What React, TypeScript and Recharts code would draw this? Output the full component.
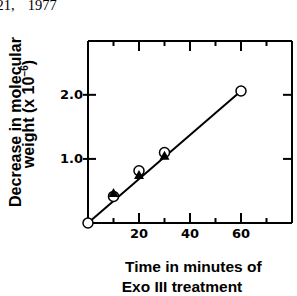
import { ComposedChart, Line, Scatter, XAxis, YAxis } from 'recharts';

// time axis (minutes) and decrease axis (x 10^-6)
const xTicks = [10, 20, 30, 40, 50, 60, 70];
const xLabels = [20, 40, 60];
const yTicks = [1.0, 2.0];

// open circles
const openTime = [0, 10, 20, 30, 60];
const openDecrease = [0, 0.415, 0.815, 1.1, 2.06];
// filled triangles
const filledTime = [10, 20, 30];
const filledDecrease = [0.47, 0.75, 1.05];
// fitted straight line
const fitTime = [0, 60];
const fitDecrease = [0, 2.06];

const openData = openTime.map((t, i) => ({ t, d: openDecrease[i] }));
const filledData = filledTime.map((t, i) => ({ t, d: filledDecrease[i] }));
const fitData = fitTime.map((t, i) => ({ t, d: fitDecrease[i] }));

const tickFont = { fontFamily: '"DejaVu Sans", sans-serif', fontWeight: 700, fontSize: 13 };
const titleFont = { fontFamily: '"Liberation Sans", Arial, sans-serif', fontWeight: 700 };
const ink = { stroke: '#000', strokeWidth: 2, fill: 'none' };

const BottomTick = ({ x, y, payload }: any) => {
  const major = xLabels.includes(payload.value);
  return (
    <g>
      <path d={`M${x},${y}V${y - (major ? 10 : 5)}`} {...ink} />
      {major && (
        <text x={x} y={y + 15} textAnchor="middle" fill="#000" style={tickFont}>
          {payload.value}
        </text>
      )}
    </g>
  );
};

const TopTick = ({ x, y, payload }: any) => {
  const major = xLabels.includes(payload.value);
  return <path d={`M${x},${y}V${y + (major ? 10 : 5)}`} {...ink} />;
};

const LeftTick = ({ x, y, payload }: any) => (
  <g>
    <path d={`M${x - 5},${y}H${x + 8}`} {...ink} />
    <text x={x - 5} y={y + 4.5} textAnchor="end" fill="#000" style={tickFont}>
      {payload.value.toFixed(1)}
    </text>
  </g>
);

const RightTick = ({ x, y }: any) => <path d={`M${x - 9},${y}H${x}`} {...ink} />;

const OpenCircle = ({ cx, cy }: any) => (
  <circle cx={cx} cy={cy} r={5} fill="#fff" stroke="#000" strokeWidth={1.5} />
);

const FilledTriangle = ({ cx, cy }: any) => (
  <path d={`M${cx},${cy - 5}L${cx + 5},${cy + 4}L${cx - 5},${cy + 4}Z`} fill="#000" />
);

const frame = { stroke: '#000', strokeWidth: 2 };

export default function App() {
  return (
    <div style={{ position: 'absolute', left: 0, top: 0, width: 297, height: 296, background: '#fff' }}>
      <ComposedChart width={297} height={296} margin={{ top: 40, right: 4, bottom: 72, left: 87 }}>
        <XAxis
          xAxisId="b"
          dataKey="t"
          type="number"
          domain={[0, 80]}
          ticks={xTicks}
          height={1}
          tickSize={0}
          tickMargin={0}
          tickLine={false}
          axisLine={frame}
          tick={<BottomTick />}
          interval={0}
        />
        <XAxis
          xAxisId="t"
          orientation="top"
          dataKey="t"
          type="number"
          domain={[0, 80]}
          ticks={xTicks}
          height={1}
          tickSize={0}
          tickMargin={0}
          tickLine={false}
          axisLine={frame}
          tick={<TopTick />}
          interval={0}
        />
        <YAxis
          yAxisId="l"
          dataKey="d"
          type="number"
          domain={[0, 2.84]}
          ticks={yTicks}
          width={1}
          tickSize={0}
          tickMargin={0}
          tickLine={false}
          axisLine={frame}
          tick={<LeftTick />}
          interval={0}
        />
        <YAxis
          yAxisId="r"
          orientation="right"
          dataKey="d"
          type="number"
          domain={[0, 2.84]}
          ticks={yTicks}
          width={1}
          tickSize={0}
          tickMargin={0}
          tickLine={false}
          axisLine={frame}
          tick={<RightTick />}
          interval={0}
        />
        {/* fit line sits on the top/right axes (same domains) so those axes get their ticks */}
        <Line
          xAxisId="t"
          yAxisId="r"
          data={fitData}
          dataKey="d"
          type="linear"
          stroke="#000"
          strokeWidth={2}
          dot={false}
          isAnimationActive={false}
        />
        <Scatter xAxisId="b" yAxisId="l" data={openData} shape={<OpenCircle />} isAnimationActive={false} />
        <Scatter xAxisId="b" yAxisId="l" data={filledData} shape={<FilledTriangle />} isAnimationActive={false} />
      </ComposedChart>
      <svg
        width={297}
        height={296}
        style={{ position: 'absolute', left: 0, top: 0, pointerEvents: 'none' }}
      >
        <text x={-3.5} y={10} fill="#000" style={{ fontFamily: '"Liberation Serif", serif', fontSize: 14.5 }}>
          21,<tspan dx={13}>1977</tspan>
        </text>
        <text transform="translate(21,122) rotate(-90)" textAnchor="middle" fill="#000" style={{ ...titleFont, fontSize: 16 }}>
          Decrease in molecular
        </text>
        <text transform="translate(34,114) rotate(-90)" textAnchor="middle" fill="#000" style={{ ...titleFont, fontSize: 16 }}>
          weight (x 10<tspan dy={-6} fontSize={10}>−6</tspan>
          <tspan dy={6}>)</tspan>
        </text>
        <text x={125} y={271.7} fill="#000" style={{ ...titleFont, fontSize: 15.5 }}>
          Time in minutes of
        </text>
        <text x={121.7} y={291.7} fill="#000" style={{ ...titleFont, fontSize: 15.5 }}>
          Exo III treatment
        </text>
      </svg>
    </div>
  );
}
